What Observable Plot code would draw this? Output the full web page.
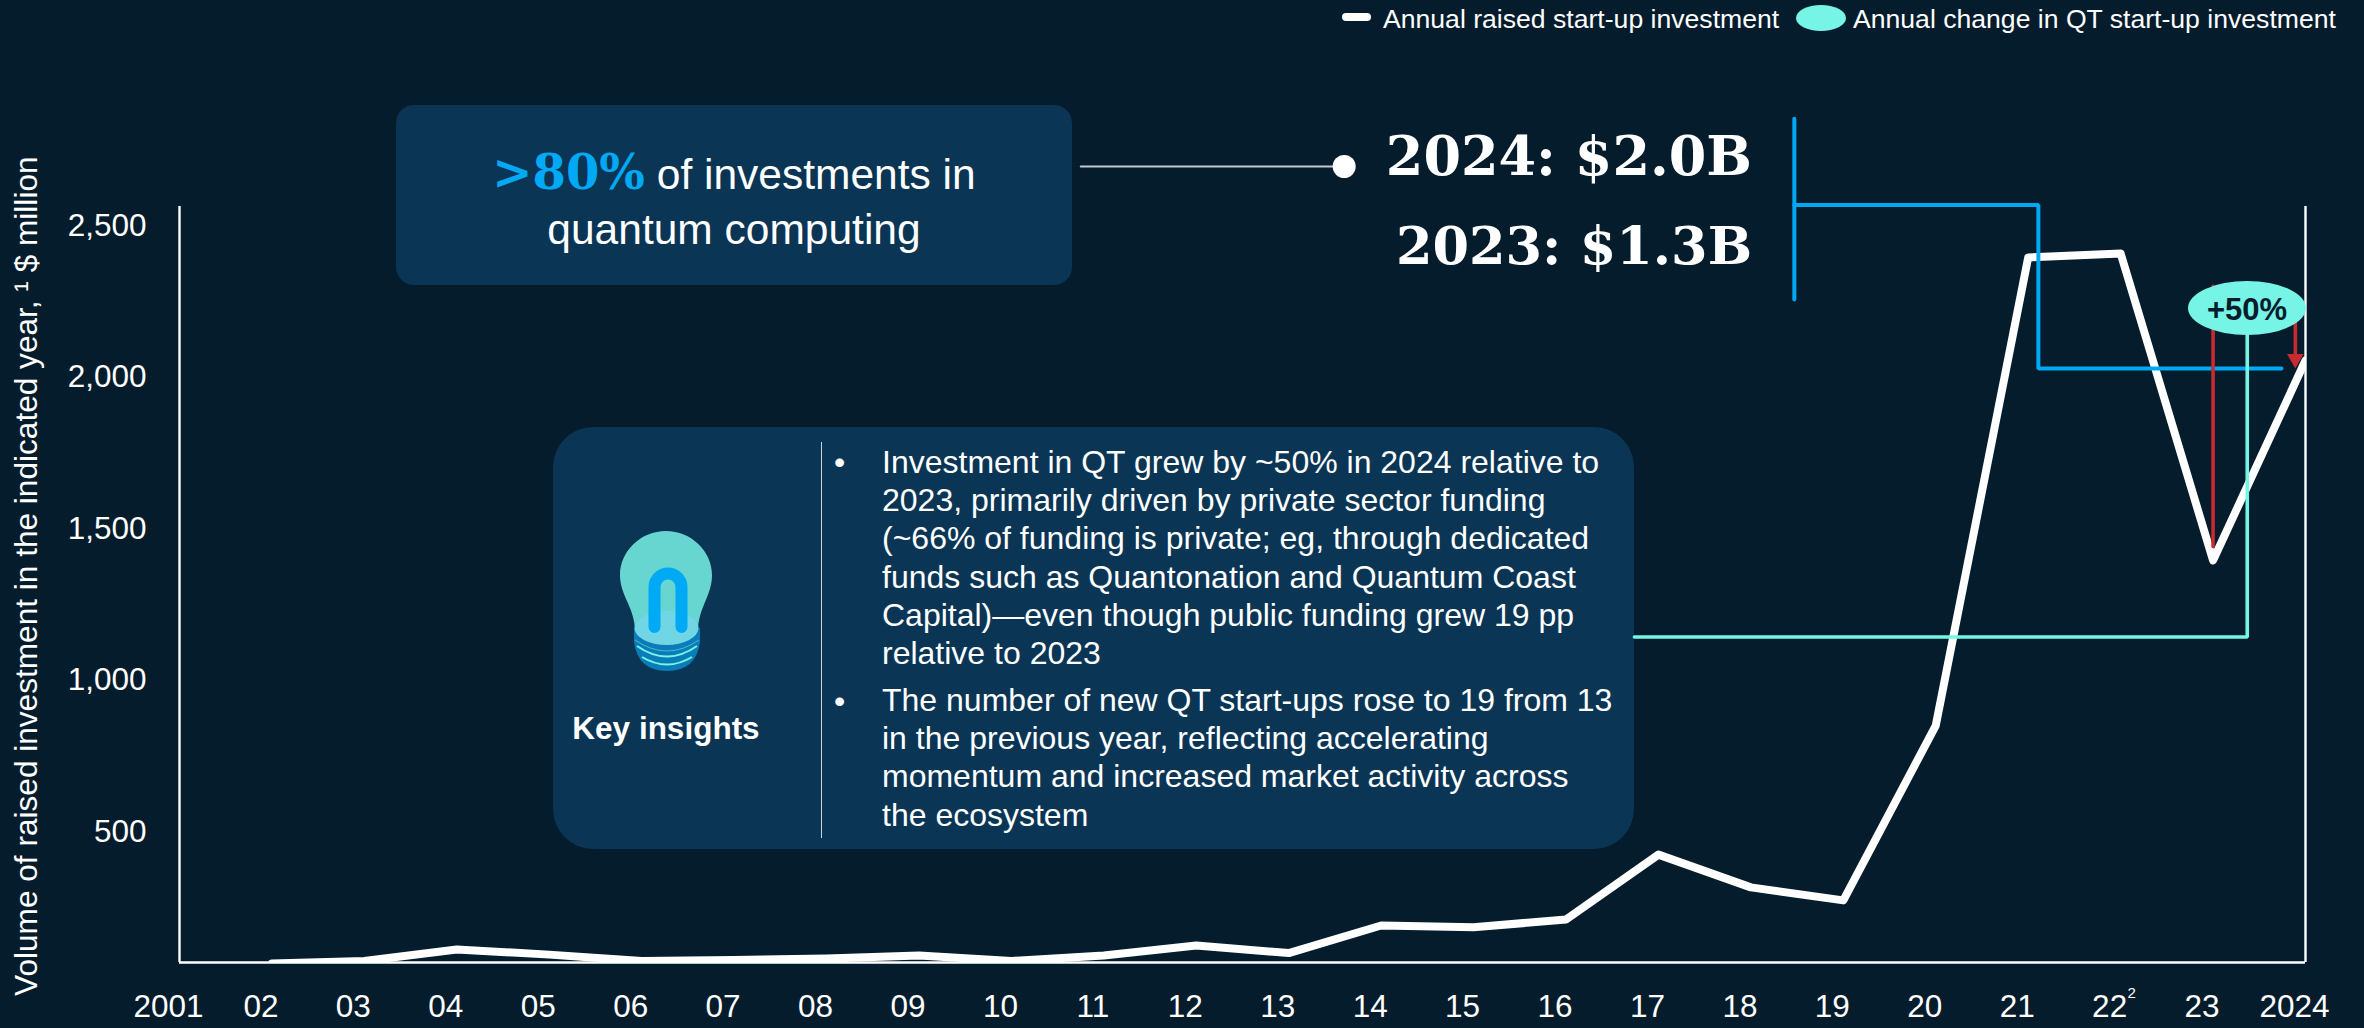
<!DOCTYPE html>
<html>
<head>
<meta charset="utf-8">
<script src="https://cdn.jsdelivr.net/npm/d3@7"></script>
<script src="https://cdn.jsdelivr.net/npm/@observablehq/plot@0.6"></script>
<style>
html,body{margin:0;padding:0;background:#051c2c;width:2364px;height:1028px;overflow:hidden}
body{position:relative;font-family:"Liberation Sans",Arial,sans-serif;color:#fff}
#chart{position:absolute;left:0;top:0}
.abs{position:absolute;white-space:nowrap}
.panel{position:absolute;background:#0a3555}
.serif{font-family:"DejaVu Serif",serif;font-weight:700}
</style>
</head>
<body>
<div class="panel" style="left:396px;top:105px;width:676px;height:180px;border-radius:18px"></div>
<div class="panel" style="left:553px;top:427px;width:1081px;height:422px;border-radius:40px"></div>
<div id="chart"></div>

<div class="abs" style="left:1342px;top:13px;width:29px;height:8px;border-radius:4px;background:#fff"></div>
<div class="abs" style="left:1383px;top:4px;font-size:26.6px;line-height:30px">Annual raised start-up investment</div>
<div class="abs" style="left:1796px;top:5px;width:50px;height:26px;border-radius:50%;background:#76f5e6"></div>
<div class="abs" style="left:1853px;top:4px;font-size:26.6px;line-height:30px">Annual change in QT start-up investment</div>

<div class="abs" style="left:396px;width:676px;text-align:center;top:142px;font-size:42.5px;line-height:60px"><span class="serif" style="color:#00a9f4;font-size:48px">&gt;80%</span> of investments in</div>
<div class="abs" style="left:396px;width:676px;text-align:center;top:202px;font-size:42.5px;line-height:56px">quantum computing</div>

<div class="abs serif" style="right:612px;top:124px;font-size:54px;line-height:64px">2024: $2.0B</div>
<div class="abs serif" style="right:612px;top:214px;font-size:52.5px;line-height:64px">2023: $1.3B</div>

<svg class="abs" style="left:580px;top:500px" width="200" height="200" viewBox="0 0 200 200">
  <path d="M54 128 L54 142 Q58 171 87 171 Q116 171 120 142 L120 128Z" fill="#0a7db8"/>
  <path d="M55 140 Q87 162 119 140" fill="none" stroke="#4fb3d8" stroke-width="1"/>
  <path d="M57 146 Q87 167 117 146" fill="none" stroke="#76f5e6" stroke-width="2"/>
  <path d="M62 157 Q87 172 112 157" fill="none" stroke="#76f5e6" stroke-width="2"/>
  <path d="M86 31 C111 31 132 51 132 75 C132 95 120 105 118 128 L55 128 C53 105 40 95 40 75 C40 51 61 31 86 31Z" fill="#67d5d0"/>
  <ellipse cx="86.5" cy="128" rx="32" ry="17" fill="#70d6e6"/>
  <path d="M74.5 127 V87 A13.5 13.5 0 0 1 101.5 87 V127" fill="none" stroke="#00a9f4" stroke-width="12" stroke-linecap="round"/>
</svg>
<div class="abs" style="left:553px;width:226px;text-align:center;top:709px;font-size:31.5px;font-weight:700;line-height:38px">Key insights</div>
<div class="abs" style="left:821px;top:442px;width:1px;height:396px;background:#c9d3da"></div>
<div class="abs" style="left:834px;top:443px;font-size:32px;line-height:38.2px">•</div>
<div class="abs" style="left:882px;top:443px;font-size:32px;line-height:38.2px">Investment in QT grew by ~50% in 2024 relative to<br>2023, primarily driven by private sector funding<br>(~66% of funding is private; eg, through dedicated<br>funds such as Quantonation and Quantum Coast<br>Capital)—even though public funding grew 19 pp<br>relative to 2023</div>
<div class="abs" style="left:834px;top:682px;font-size:32px;line-height:38.2px">•</div>
<div class="abs" style="left:882px;top:681px;font-size:32px;line-height:38.2px">The number of new QT start-ups rose to 19 from 13<br>in the previous year, reflecting accelerating<br>momentum and increased market activity across<br>the ecosystem</div>

<div class="abs" style="left:2188px;top:281px;width:118px;height:54px;border-radius:50%;background:#76f5e6;color:#051c2c;font-weight:700;font-size:31px;line-height:58px;text-align:center">+50%</div>

<script>
const years = [2002,2003,2004,2005,2006,2007,2008,2009,2010,2011,2012,2013,2014,2015,2016,2017,2018,2019,2020,2021,2022,2023,2024];
const investment = [65,73,111,94,73,76,81,91,73,91,124,99,190,184,210,424,316,273,850,2395,2408,1395,2055];
const axisYears = d3.range(2001,2025);
const yTicks = [500,1000,1500,2000,2500];

// annotation connectors, in chart units (year, $ million)
const bracketV = {x:[2018.47,2018.47], y:[2853,2256]};
const bracketH = {x:[2018.47,2021.11,2021.11,2023.74], y:[2568,2568,2028,2028]};
const teal = {x:[2016.74,2023.37,2023.37], y:[1142,1142,2187]};
const redLeft = {x:[2023,2023], y:[1441,2300]};
const redRight = {x:[2023.89,2023.89], y:[2187,2078]};
const leader = {x:[2010.75,2013.5], y:[2695,2695]};
const leaderDot = {x:[2013.6], y:[2695]};

const white = "#fff", blue = "#00a9f4", cyan = "#76f5e6", red = "#c62b2f";
const path = (p,o) => Plot.line(p.x,{x:p.x,y:p.y,...o});

const chart = Plot.plot({
  width:2364, height:1028,
  marginTop:206, marginBottom:66, marginLeft:179, marginRight:59,
  style:{background:"transparent",color:"#fff",fontFamily:"'Liberation Sans',Arial,sans-serif",overflow:"visible"},
  x:{domain:[2001,2024]},
  y:{domain:[68,2563]},
  marks:[
    Plot.axisY({ticks:yTicks,tickFormat:d3.format(","),tickSize:0,tickPadding:33,fontSize:31.5,label:null,fill:"#fff"}),
    Plot.axisX({ticks:axisYears,tickFormat:d=>(d===2001||d===2024)?String(d):String(d).slice(2),tickSize:0,tickPadding:32,fontSize:31.5,dx:-11,label:null,fill:"#fff"}),
    Plot.text(["2"],{x:[2022],frameAnchor:"bottom",dx:11,dy:35,fontSize:15,fill:"#fff"}),
    Plot.text(["Volume of raised investment in the indicated year, ¹ $ million"],{y:[1343],frameAnchor:"left",dx:-153,rotate:-90,textAnchor:"middle",fontSize:31.6,fill:"#fff"}),
    Plot.line(years,{x:years,y:investment,stroke:white,strokeWidth:8,strokeLinejoin:"round",clip:true}),
    Plot.ruleX([2001],{stroke:white,strokeWidth:2.4}),
    Plot.ruleX([2024],{stroke:white,strokeWidth:2.4}),
    Plot.ruleY([68],{stroke:white,strokeWidth:2.6}),
    path(bracketV,{stroke:blue,strokeWidth:4}),
    path(bracketH,{stroke:blue,strokeWidth:4,strokeLinejoin:"miter"}),
    path(redLeft,{stroke:red,strokeWidth:3.6}),
    path(redRight,{stroke:red,strokeWidth:3.6}),
    Plot.dot([2023.89],{x:d=>d,y:[2060],symbol:"triangle",rotate:180,r:6.2,fill:red,stroke:"none"}),
    path(teal,{stroke:cyan,strokeWidth:3.6,strokeLinejoin:"miter"}),
    path(leader,{stroke:"#c4c8cb",strokeWidth:2}),
    Plot.dot(leaderDot.x,{x:d=>d,y:leaderDot.y,r:11.5,fill:white,stroke:"none"})
  ]
});
document.getElementById("chart").appendChild(chart);
</script>
</body>
</html>
